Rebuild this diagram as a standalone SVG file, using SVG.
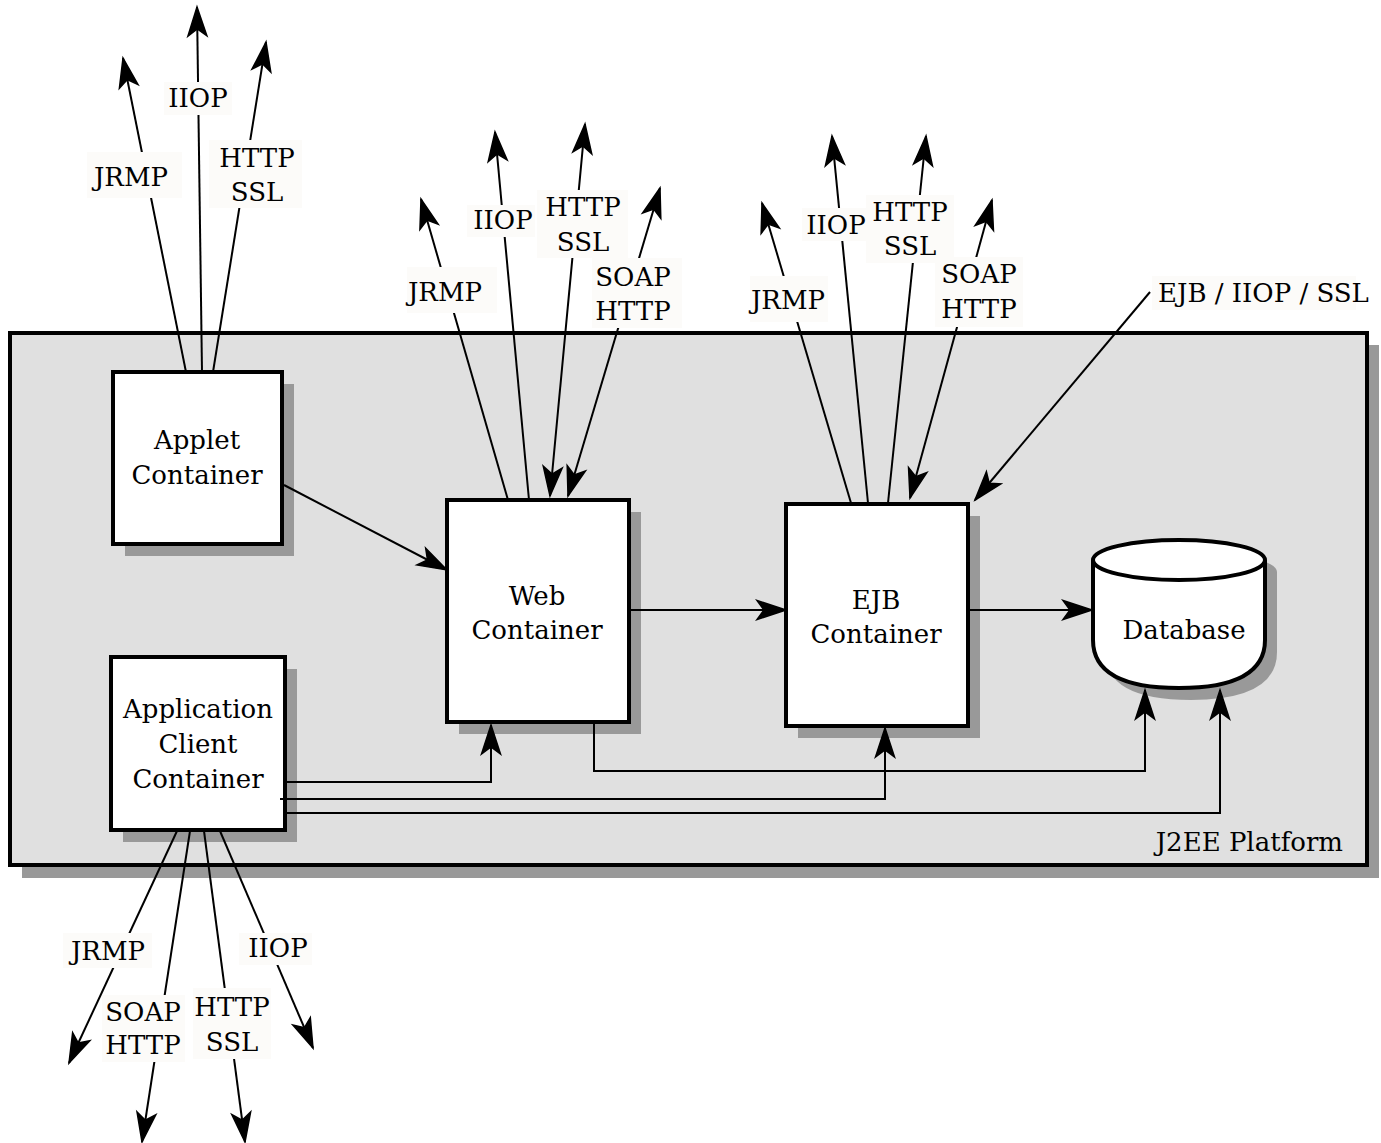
<svg xmlns="http://www.w3.org/2000/svg" width="1381" height="1143" viewBox="0 0 1381 1143">
<style>
text{font-family:"DejaVu Serif","Liberation Serif",serif;font-size:26px;fill:#000}
.c{text-anchor:middle}
.box{fill:#fff;stroke:#000;stroke-width:4}
.sh{fill:#999}
.lbl{fill:#fcfbf9}
.ln{fill:none;stroke:#000;stroke-width:2}
</style>
<defs>
<marker id="ah" markerUnits="userSpaceOnUse" markerWidth="36" markerHeight="26" viewBox="-33 -13 36 26" refX="0" refY="0" orient="auto-start-reverse">
<path d="M0,0 L-29,-9.5 L-22,0 L-29,9.5 Z" fill="#000" stroke="#000" stroke-width="1.5" stroke-linejoin="miter"/>
</marker>
</defs>
<rect width="1381" height="1143" fill="#fff"/>
<g id="platform">
<rect x="22" y="345" width="1357" height="533" class="sh"/>
<rect x="10" y="333" width="1357" height="532" fill="#e0e0e0" stroke="#000" stroke-width="4"/>
<text x="1343" y="851" text-anchor="end">J2EE Platform</text>
</g>
<g id="applet">
<rect class="sh" x="125" y="384" width="169" height="172"/>
<rect class="box" x="113" y="372" width="169" height="172"/>
<text class="c" x="197" y="449">Applet</text><text class="c" x="197" y="484">Container</text>
</g>
<g id="web">
<rect class="sh" x="459" y="512" width="182" height="222"/>
<rect class="box" x="447" y="500" width="182" height="222"/>
<text class="c" x="537" y="605">Web</text><text class="c" x="537" y="639">Container</text>
</g>
<g id="ejb">
<rect class="sh" x="798" y="516" width="182" height="222"/>
<rect class="box" x="786" y="504" width="182" height="222"/>
<text class="c" x="876" y="609">EJB</text><text class="c" x="876" y="643">Container</text>
</g>
<g id="appclient">
<rect class="sh" x="123" y="669" width="174" height="173"/>
<rect class="box" x="111" y="657" width="174" height="173"/>
<text class="c" x="198" y="718">Application</text><text class="c" x="198" y="753">Client</text><text class="c" x="198" y="788">Container</text>
</g>
<g id="database">
<path class="sh" d="M1105,572 V652 Q1105,700 1191,700 Q1277,700 1277,652 V572 A86,20 0 0 0 1105,572 Z"/>
<path class="box" d="M1093,560 V640 Q1093,688 1179,688 Q1265,688 1265,640 V560"/>
<ellipse class="box" cx="1179" cy="560" rx="86" ry="20"/>
<text class="c" x="1184" y="639">Database</text>
</g>
<g id="connectors">
<path class="ln" d="M186,372 L123,58" marker-end="url(#ah)"/>
<path class="ln" d="M202,372 L197,7" marker-end="url(#ah)"/>
<path class="ln" d="M213,372 L266,42" marker-end="url(#ah)"/>
<path class="ln" d="M508,500 L421,199" marker-end="url(#ah)"/>
<path class="ln" d="M529,500 L495,132" marker-end="url(#ah)"/>
<path class="ln" d="M550,496 L585,124" marker-start="url(#ah)" marker-end="url(#ah)"/>
<path class="ln" d="M568,496 L660,188" marker-start="url(#ah)" marker-end="url(#ah)"/>
<path class="ln" d="M851,503 L762,203" marker-end="url(#ah)"/>
<path class="ln" d="M868,503 L832,136" marker-end="url(#ah)"/>
<path class="ln" d="M888,503 L926,136" marker-end="url(#ah)"/>
<path class="ln" d="M910,498 L992,200" marker-start="url(#ah)" marker-end="url(#ah)"/>
<path class="ln" d="M1150,292 L975,500" marker-end="url(#ah)"/>
<path class="ln" d="M177,831 L69,1063" marker-end="url(#ah)"/>
<path class="ln" d="M190,831 L142,1142" marker-end="url(#ah)"/>
<path class="ln" d="M204,831 L245,1142" marker-end="url(#ah)"/>
<path class="ln" d="M220,831 L313,1048" marker-end="url(#ah)"/>
<path class="ln" d="M284,485 L447,570" marker-end="url(#ah)"/>
<path class="ln" d="M631,610 L786,610" marker-end="url(#ah)"/>
<path class="ln" d="M968,610 L1092,610" marker-end="url(#ah)"/>
<path class="ln" d="M285,782 H491 V725" marker-end="url(#ah)"/>
<path class="ln" d="M280,799 H885 V728" marker-end="url(#ah)"/>
<path class="ln" d="M285,813 H1220 V690" marker-end="url(#ah)"/>
<path class="ln" d="M594,722 V771 H1145 V690" marker-end="url(#ah)"/>
</g>
<g id="labels">
<rect class="lbl" x="87" y="152" width="95" height="46"/><text class="c" x="131" y="186">JRMP</text>
<rect class="lbl" x="164" y="82" width="68" height="33"/><text class="c" x="198" y="107">IIOP</text>
<rect class="lbl" x="209" y="140" width="93" height="68"/><text class="c" x="257" y="167">HTTP</text><text class="c" x="257" y="201">SSL</text>
<rect class="lbl" x="407" y="267" width="90" height="46"/><text class="c" x="445" y="301">JRMP</text>
<rect class="lbl" x="467" y="205" width="68" height="32"/><text class="c" x="503" y="229">IIOP</text>
<rect class="lbl" x="537" y="190" width="91" height="68"/><text class="c" x="583" y="216">HTTP</text><text class="c" x="583" y="251">SSL</text>
<rect class="lbl" x="592" y="258" width="90" height="70"/><text class="c" x="633" y="286">SOAP</text><text class="c" x="633" y="320">HTTP</text>
<rect class="lbl" x="750" y="276" width="78" height="46"/><text class="c" x="788" y="309">JRMP</text>
<rect class="lbl" x="802" y="208" width="68" height="33"/><text class="c" x="836" y="234">IIOP</text>
<rect class="lbl" x="866" y="195" width="88" height="68"/><text class="c" x="910" y="221">HTTP</text><text class="c" x="910" y="255">SSL</text>
<rect class="lbl" x="935" y="257" width="88" height="70"/><text class="c" x="979" y="283">SOAP</text><text class="c" x="979" y="318">HTTP</text>
<rect class="lbl" x="1152" y="276" width="204" height="34"/><text x="1158" y="302">EJB / IIOP / SSL</text>
<rect class="lbl" x="63" y="933" width="89" height="35"/><text class="c" x="108" y="960">JRMP</text>
<rect class="lbl" x="102" y="995" width="83" height="67"/><text class="c" x="143" y="1021">SOAP</text><text class="c" x="143" y="1054">HTTP</text>
<rect class="lbl" x="193" y="988" width="78" height="71"/><text class="c" x="232" y="1016">HTTP</text><text class="c" x="232" y="1051">SSL</text>
<rect class="lbl" x="239" y="933" width="73" height="32"/><text class="c" x="278" y="957">IIOP</text>
</g>
</svg>
